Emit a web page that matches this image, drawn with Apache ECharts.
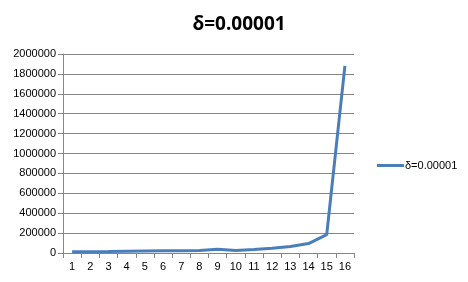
<!DOCTYPE html>
<html><head><meta charset="utf-8">
<script src="https://cdn.jsdelivr.net/npm/echarts@6/dist/echarts.min.js"></script>
<style>html,body{margin:0;padding:0;background:#fff}#c{width:468px;height:282px}</style>
</head><body><div id="c"></div>
<script>
var categories = ['1','2','3','4','5','6','7','8','9','10','11','12','13','14','15','16'];
var seriesName = 'δ=0.00001';
var values = [12000, 13000, 14000, 18000, 20000, 22000, 22000, 24000, 38000, 25000, 35000, 48000, 65000, 95000, 185000, 1880000];
var yTicks = [0, 200000, 400000, 600000, 800000, 1000000, 1200000, 1400000, 1600000, 1800000, 2000000];

var chart = echarts.init(document.getElementById('c'));
chart.setOption({
  animation: false,
  title: {
    text: seriesName, left: 234, top: 10, textAlign: 'center',
    textStyle: {fontFamily: 'Open Sans', fontSize: 19, fontWeight: 'bold', color: '#000'}
  },
  legend: {
    data: [seriesName], left: 372, top: 155, itemWidth: 27, itemHeight: 3, itemGap: 2,
    icon: 'rect',
    textStyle: {fontFamily: 'Liberation Sans', fontSize: 11, color: '#000', padding: [0,0,0,-4]}
  },
  grid: {left: 63, right: 114, top: 54, bottom: 29},
  xAxis: {
    type: 'category', data: categories, boundaryGap: true,
    axisLine: {lineStyle: {color: '#868686', width: 1}},
    axisTick: {show: true, alignWithLabel: false, length: 5, lineStyle: {color: '#868686'}},
    axisLabel: {fontFamily: 'Liberation Sans', fontSize: 11, color: '#000', margin: 8}
  },
  yAxis: {
    type: 'value', min: yTicks[0], max: yTicks[yTicks.length-1], interval: yTicks[1]-yTicks[0],
    axisLine: {show: true, lineStyle: {color: '#868686'}},
    axisTick: {show: true, length: 5, lineStyle: {color: '#868686'}},
    splitLine: {lineStyle: {color: '#868686'}},
    axisLabel: {fontFamily: 'Liberation Sans', fontSize: 11, color: '#000', margin: 7,
      formatter: function (v) { return String(v); }}
  },
  series: [{
    name: seriesName, type: 'line', data: values, showSymbol: false, symbol: 'none',
    lineStyle: {color: '#4a7ebb', width: 3}, itemStyle: {color: '#4a7ebb'}
  }]
});
</script></body></html>
